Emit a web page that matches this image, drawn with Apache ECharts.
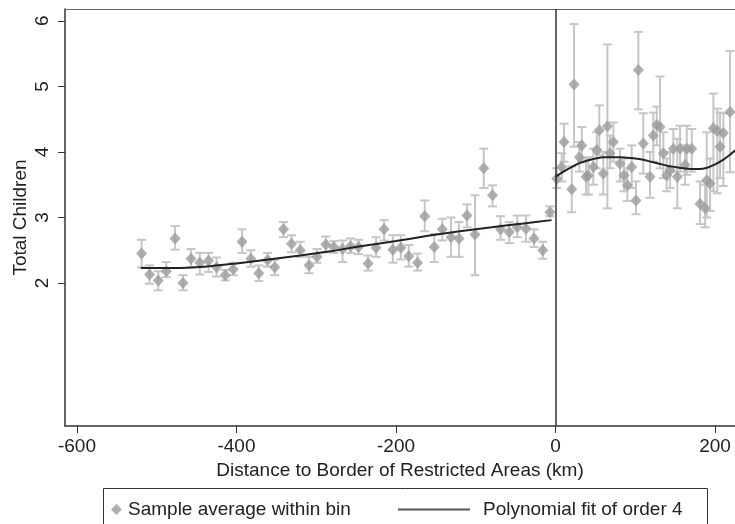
<!DOCTYPE html>
<html>
<head>
<meta charset="utf-8">
<script src="https://cdn.jsdelivr.net/npm/echarts@6/dist/echarts.min.js"></script>
<style>html,body{margin:0;padding:0;background:#fff}#c{width:735px;height:524px}</style>
</head>
<body>
<div id="c"></div>
<script>
// ---- data ----
const xTicks = [-600, -400, -200, 0, 200];
const yTicks = [2, 3, 4, 5, 6];

const leftX  = [-519,-509,-498,-488,-477,-467,-457,-446,-435,-425,-414,-404,-393,-382,-372,-361,-352,-341,-331,-320,-309,-299,-288,-278,-267,-257,-247,-235,-225,-215,-204,-194,-184,-173,-164,-152,-142,-131,-121,-111,-101,-90,-79,-69,-58,-48,-37,-27,-16,-7];
const leftY  = [2.45,2.13,2.04,2.18,2.68,2.00,2.37,2.31,2.34,2.24,2.12,2.21,2.63,2.37,2.15,2.35,2.24,2.82,2.60,2.50,2.27,2.40,2.59,2.55,2.52,2.56,2.55,2.30,2.54,2.82,2.51,2.54,2.41,2.31,3.02,2.55,2.82,2.70,2.68,3.03,2.74,3.75,3.34,2.82,2.78,2.85,2.83,2.68,2.50,3.08];
const leftLo = [2.24,1.99,1.89,2.09,2.51,1.89,2.24,2.13,2.17,2.10,2.04,2.12,2.46,2.25,2.03,2.25,2.12,2.70,2.47,2.40,2.15,2.31,2.47,2.46,2.32,2.46,2.44,2.19,2.40,2.65,2.31,2.36,2.25,2.19,2.79,2.32,2.65,2.40,2.40,2.85,2.12,3.45,3.17,2.66,2.61,2.70,2.63,2.55,2.37,3.02];
const leftHi = [2.66,2.27,2.18,2.32,2.87,2.12,2.52,2.46,2.46,2.39,2.20,2.31,2.82,2.50,2.27,2.46,2.35,2.93,2.73,2.63,2.40,2.52,2.71,2.64,2.65,2.68,2.66,2.42,2.70,2.96,2.73,2.73,2.58,2.45,3.26,2.75,2.98,3.00,2.93,3.20,3.34,4.05,3.49,3.02,2.93,3.03,3.03,2.82,2.63,3.17];

const rightX  = [1.5,7.8,10.7,20.3,23.2,29.8,32.9,38.2,41.1,47.4,51.7,54.9,59.9,65.0,68.3,72.5,80.9,85.9,90.0,95.5,100.9,103.8,110.0,118.5,122.6,126.9,131.0,135.2,139.4,143.6,147.7,152.7,156.1,162.4,164.5,170.8,181.2,187.5,189.6,193.7,197.9,202.9,206.3,210.4,218.8];
const rightY  = [3.59,3.77,4.15,3.43,5.03,3.92,4.10,3.62,3.64,3.77,4.03,4.33,3.67,4.39,3.98,4.15,3.82,3.64,3.49,3.77,3.26,5.25,4.13,3.62,4.25,4.41,4.38,3.98,3.64,3.72,4.05,3.62,4.05,3.80,4.05,4.05,3.21,3.14,3.57,3.52,4.36,4.32,4.08,4.29,4.61];
const rightLo = [3.45,3.55,3.85,3.08,4.08,3.70,3.85,3.35,3.35,3.50,3.75,3.95,3.35,3.14,3.75,3.85,3.55,3.40,3.25,3.45,3.05,4.65,3.67,3.30,3.85,4.10,3.75,3.60,3.40,3.45,3.70,3.14,3.70,3.50,3.65,3.70,2.90,2.85,3.00,3.10,3.40,3.37,3.60,3.48,3.69];
const rightHi = [3.75,3.98,4.43,3.78,5.95,4.15,4.38,3.90,3.92,4.05,4.30,4.71,4.00,5.64,4.25,4.45,4.05,3.90,3.75,4.10,3.55,5.83,4.59,4.00,4.60,4.69,5.15,4.30,3.90,4.00,4.35,4.20,4.40,4.10,4.40,4.35,3.55,3.50,4.30,3.90,4.89,4.66,4.60,4.59,5.54];

const fitLeftX = [-520,-480,-440,-400,-360,-320,-280,-245,-200,-160,-120,-80,-40,-5];
const fitLeftY = [2.23,2.23,2.25,2.30,2.36,2.42,2.49,2.56,2.64,2.72,2.79,2.85,2.91,2.96];
const fitRightX = [0,10,20,30,40,50,60,70,80,90,100,110,120,130,140,150,160,170,180,190,200,210,220,226];
const fitRightY = [3.62,3.70,3.77,3.83,3.87,3.90,3.92,3.92,3.92,3.91,3.90,3.88,3.85,3.82,3.79,3.77,3.75,3.74,3.74,3.76,3.81,3.88,3.97,4.03];

// ---- chart ----
const FONT = 'Liberation Sans, Arial, Helvetica, sans-serif';
const TXT = '#222';
const FS = 19;
const zip = (a, b) => a.map((v, i) => [v, b[i]]);
const zip3 = (a, b, c) => a.map((v, i) => [v, b[i], c[i]]);

const errData = zip3(leftX, leftLo, leftHi).concat(zip3(rightX, rightLo, rightHi));
const ptData = zip(leftX, leftY).concat(zip(rightX, rightY));

function renderErr(params, api) {
  const x = api.value(0), lo = api.value(1), hi = api.value(2);
  const a = api.coord([x, hi]), b = api.coord([x, lo]);
  const w = 4.5;
  const st = { stroke: '#c6c6c6', lineWidth: 2 };
  return {
    type: 'group',
    children: [
      { type: 'line', shape: { x1: a[0], y1: a[1], x2: b[0], y2: b[1] }, style: st },
      { type: 'line', shape: { x1: a[0] - w, y1: a[1], x2: a[0] + w, y2: a[1] }, style: st },
      { type: 'line', shape: { x1: b[0] - w, y1: b[1], x2: b[0] + w, y2: b[1] }, style: st }
    ]
  };
}

const chart = echarts.init(document.getElementById('c'), null, { renderer: 'canvas' });
chart.setOption({
  animation: false,
  backgroundColor: '#fff',
  textStyle: { fontFamily: FONT },
  grid: { left: 65, right: 0, top: 9, bottom: 98, show: false },
  xAxis: [{
    type: 'value', min: -615, max: 225,
    name: 'Distance to Border of Restricted Areas (km)',
    nameLocation: 'middle', nameGap: 29,
    nameTextStyle: { fontSize: FS, color: TXT, fontFamily: FONT },
    axisLine: { show: true, onZero: false, lineStyle: { color: '#333', width: 1.5 } },
    axisTick: { show: true, length: 7, customValues: xTicks, lineStyle: { color: '#333' } },
    axisLabel: { customValues: xTicks, fontSize: FS, color: TXT, margin: 11, fontFamily: FONT },
    splitLine: { show: false }
  }, {
    type: 'value', min: -615, max: 225, position: 'top',
    axisLine: { show: true, onZero: false, lineStyle: { color: '#666', width: 1 } },
    axisTick: { show: false }, axisLabel: { show: false }, splitLine: { show: false }
  }],
  yAxis: {
    type: 'value', min: -0.18, max: 6.18,
    name: 'Total Children', nameLocation: 'middle', nameGap: 35, nameMoveOverlap: false,
    nameTextStyle: { fontSize: FS, color: TXT, fontFamily: FONT },
    axisLine: { show: true, onZero: false, lineStyle: { color: '#333', width: 1.5 } },
    axisTick: { show: true, length: 7, customValues: yTicks, lineStyle: { color: '#333' } },
    axisLabel: { customValues: yTicks, rotate: 90, fontSize: FS, color: TXT, margin: 13, fontFamily: FONT },
    splitLine: { show: false }
  },
  legend: [
    {
      data: [{ name: 'Sample average within bin', icon: 'diamond' }],
      left: 106, top: 495, itemWidth: 11, itemHeight: 11,
      textStyle: { fontSize: FS, color: TXT, fontFamily: FONT, padding: [0, 0, 0, 1] },
      selectedMode: false
    },
    {
      data: [{ name: 'Polynomial fit of order 4', icon: 'rect', itemStyle: { color: '#555' } }],
      left: 393, top: 495, itemWidth: 72, itemHeight: 2,
      textStyle: { fontSize: FS, color: TXT, fontFamily: FONT, padding: [0, 0, 0, 8] },
      selectedMode: false
    }
  ],
  graphic: [
    { type: 'rect', shape: { x: 103.5, y: 488.5, width: 604, height: 60 }, style: { fill: 'none', stroke: '#333', lineWidth: 1 }, silent: true }
  ],
  series: [
    {
      name: 'err', type: 'custom', renderItem: renderErr, data: errData,
      encode: { x: 0, y: [1, 2] }, z: 1, clip: true
    },
    {
      name: 'Sample average within bin', type: 'scatter', data: ptData,
      symbol: 'diamond', symbolSize: [11, 12],
      itemStyle: { color: '#9b9b9b' }, z: 2, clip: true
    },
    {
      name: 'Polynomial fit of order 4', type: 'line', data: zip(fitLeftX, fitLeftY),
      smooth: 0.3, symbol: 'none', lineStyle: { color: '#222', width: 2 }, itemStyle: { color: '#555' }, z: 3,
      markLine: {
        silent: true, symbol: 'none', label: { show: false },
        lineStyle: { color: '#333', width: 1.5, type: 'solid' },
        data: [{ xAxis: 0 }]
      }
    },
    {
      name: 'Polynomial fit of order 4', type: 'line', data: zip(fitRightX, fitRightY),
      smooth: 0.3, symbol: 'none', lineStyle: { color: '#222', width: 2 }, itemStyle: { color: '#555' }, z: 3, clip: true
    }
  ]
});
</script>
</body>
</html>
